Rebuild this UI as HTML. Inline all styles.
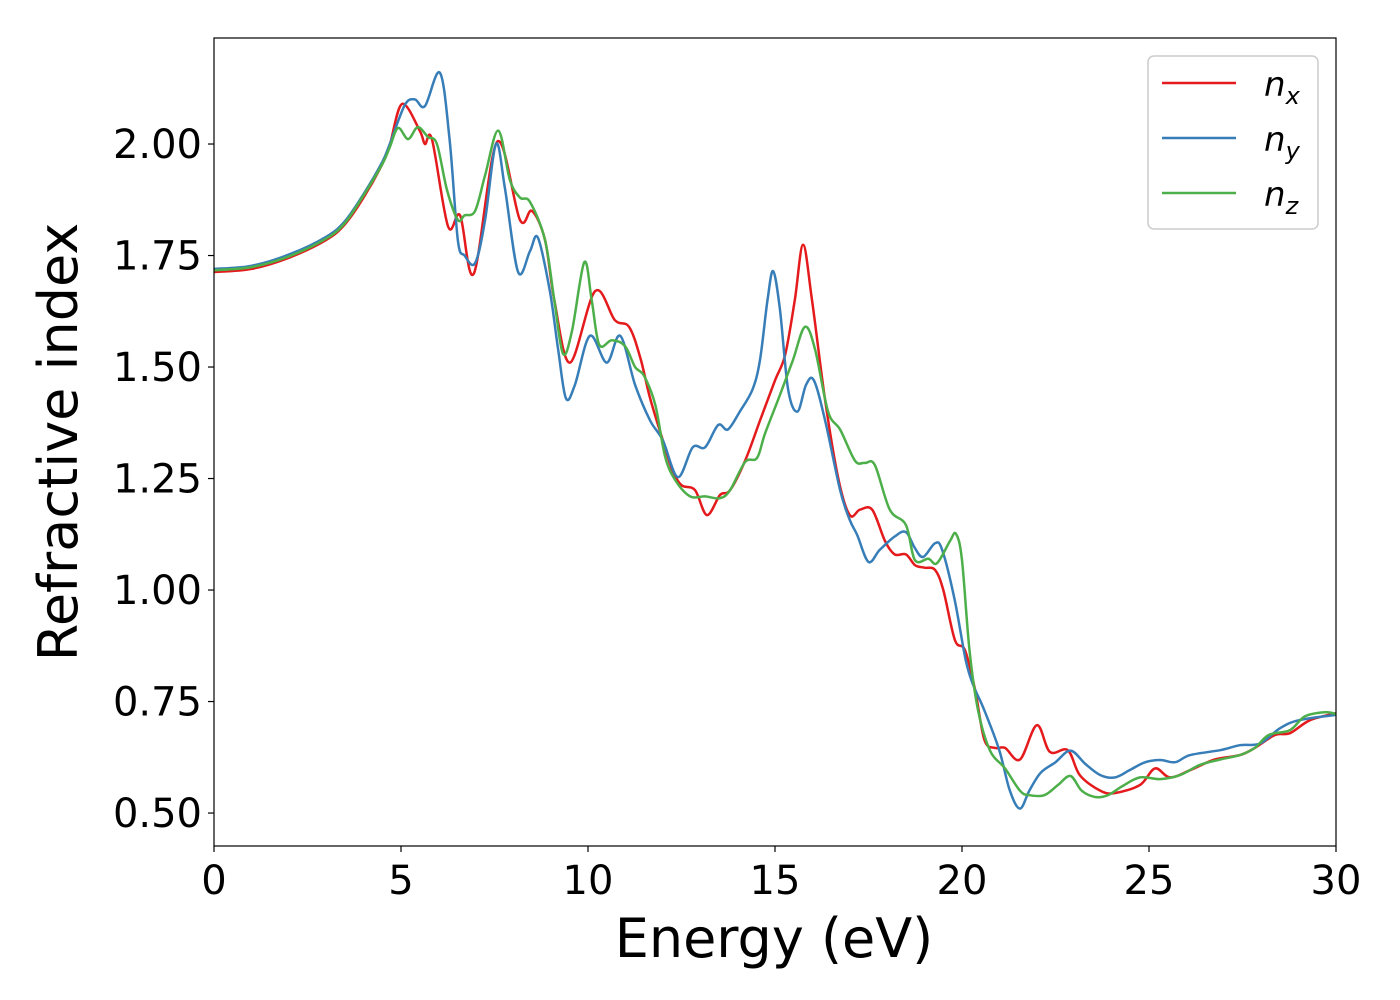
<!DOCTYPE html>
<html><head><meta charset="utf-8"><style>
html,body{margin:0;padding:0;background:#fff;}
svg{display:block;font-family:"DejaVu Sans","Liberation Sans",sans-serif;}
</style></head><body>
<svg id="chart" width="1400" height="1000">
<rect x="0" y="0" width="1400" height="1000" fill="#fff"/>
<g id="plot"></g>
<g id="axes"></g>
<text x="774" y="957" font-size="54" text-anchor="middle" fill="#000">Energy (eV)</text>
<text transform="translate(77,442) rotate(-90)" font-size="54" text-anchor="middle" fill="#000">Refractive index</text>
<g>
<rect x="1148" y="56" width="170" height="173" rx="6" fill="#fff" stroke="#ccc" stroke-width="1.5"/>
<g><line x1="1162" y1="83" x2="1236" y2="83" stroke="#e41a1c" stroke-width="2.5"/><text x="1264" y="96" font-size="34" font-style="italic">n<tspan font-size="24" dy="8">x</tspan></text></g>
<g><line x1="1162" y1="138" x2="1236" y2="138" stroke="#377eb8" stroke-width="2.5"/><text x="1264" y="151" font-size="34" font-style="italic">n<tspan font-size="24" dy="8">y</tspan></text></g>
<g><line x1="1162" y1="193" x2="1236" y2="193" stroke="#4daf4a" stroke-width="2.5"/><text x="1264" y="206" font-size="34" font-style="italic">n<tspan font-size="24" dy="8">z</tspan></text></g>
</g>
</svg>
<script>
const xTicks = [0,5,10,15,20,25,30];
const yTicks = [0.50,0.75,1.00,1.25,1.50,1.75,2.00];
const nxE = [0,1,2,3,3.5,4,4.5,4.7,5.03,5.5,5.64,5.83,6.26,6.58,6.95,7.57,8.18,8.5,8.85,9.1,9.52,10.19,10.72,11.1,11.4,11.66,12.0,12.25,12.5,12.86,13.18,13.53,13.8,14.2,14.6,15.0,15.27,15.53,15.75,15.99,16.34,16.7,17.0,17.27,17.6,17.94,18.2,18.5,18.74,19.0,19.28,19.5,19.81,20.08,20.35,20.6,20.88,21.15,21.55,22.0,22.35,22.83,23.15,23.7,24.1,24.76,25.16,25.56,26.1,26.76,27.43,27.83,28.37,28.77,29.3,30];
const nxV = [1.713,1.72,1.745,1.785,1.82,1.88,1.955,1.998,2.09,2.03,2.0,2.01,1.815,1.84,1.71,2.005,1.83,1.85,1.785,1.65,1.51,1.67,1.605,1.59,1.52,1.43,1.336,1.27,1.235,1.224,1.168,1.213,1.224,1.29,1.38,1.47,1.527,1.65,1.774,1.65,1.426,1.247,1.168,1.18,1.18,1.11,1.08,1.08,1.056,1.05,1.045,1.0,0.888,0.865,0.776,0.664,0.646,0.646,0.62,0.697,0.637,0.641,0.585,0.55,0.545,0.563,0.6,0.58,0.596,0.62,0.63,0.646,0.675,0.679,0.708,0.724];
const nyE = [0,1,2,3,3.5,4,4.5,4.7,5.1,5.37,5.64,6.04,6.3,6.52,6.7,6.98,7.25,7.54,7.78,8.13,8.45,8.66,8.98,9.2,9.41,9.65,10.05,10.5,10.86,11.26,11.66,12.0,12.4,12.8,13.13,13.48,13.74,14.06,14.4,14.6,14.8,14.95,15.13,15.35,15.6,15.83,16.04,16.34,16.74,17.0,17.2,17.5,17.8,18.2,18.5,18.74,18.96,19.28,19.47,19.8,20.1,20.3,20.6,21.0,21.28,21.55,21.8,22.1,22.5,22.9,23.3,23.7,24.1,24.5,24.9,25.3,25.7,26.1,26.9,27.43,27.97,28.5,29.0,30];
const nyV = [1.72,1.727,1.752,1.792,1.827,1.888,1.96,2.0,2.087,2.1,2.085,2.16,2.01,1.785,1.75,1.733,1.83,2.0,1.9,1.713,1.76,1.79,1.67,1.54,1.43,1.46,1.57,1.51,1.57,1.46,1.38,1.336,1.253,1.32,1.32,1.37,1.36,1.40,1.45,1.516,1.65,1.715,1.63,1.45,1.40,1.46,1.47,1.38,1.224,1.157,1.123,1.063,1.09,1.12,1.13,1.094,1.074,1.105,1.09,0.98,0.843,0.787,0.73,0.64,0.55,0.51,0.55,0.59,0.614,0.64,0.61,0.585,0.58,0.597,0.614,0.619,0.614,0.63,0.641,0.652,0.656,0.69,0.708,0.72];
const nzE = [0,1,2,3,3.5,4,4.5,4.7,4.92,5.19,5.45,5.72,5.96,6.23,6.52,6.7,6.98,7.25,7.6,7.91,8.18,8.45,8.85,9.1,9.33,9.57,9.9,10.1,10.3,10.64,10.99,11.26,11.5,11.8,12.06,12.33,12.73,13.13,13.53,13.8,14.2,14.52,14.73,15.13,15.48,15.8,16.07,16.42,16.74,17.14,17.4,17.67,18.07,18.5,18.74,19.1,19.33,19.68,19.84,20.0,20.2,20.43,20.75,21.15,21.55,21.8,22.2,22.57,22.9,23.2,23.56,23.9,24.28,24.76,25.3,25.83,26.36,26.9,27.43,27.83,28.2,28.77,29.17,29.7,30];
const nzV = [1.717,1.724,1.748,1.788,1.823,1.885,1.955,1.993,2.036,2.011,2.038,2.016,2.0,1.897,1.83,1.84,1.85,1.93,2.03,1.92,1.88,1.87,1.785,1.65,1.53,1.58,1.735,1.65,1.55,1.56,1.547,1.50,1.48,1.415,1.30,1.247,1.21,1.21,1.206,1.224,1.287,1.296,1.35,1.437,1.516,1.59,1.54,1.40,1.36,1.29,1.285,1.28,1.18,1.146,1.067,1.07,1.06,1.11,1.126,1.067,0.865,0.73,0.64,0.6,0.55,0.54,0.54,0.563,0.583,0.55,0.536,0.54,0.56,0.58,0.576,0.585,0.608,0.62,0.63,0.646,0.675,0.686,0.717,0.726,0.722];

const X0=214, X1=1336, Y0=38, Y1=846;
const xMin=0, xMax=30, yMin=0.4261, yMax=2.2377;
function xs(v){return X0+(v-xMin)/(xMax-xMin)*(X1-X0);}
function ys(v){return Y1-(v-yMin)/(yMax-yMin)*(Y1-Y0);}
const NS="http://www.w3.org/2000/svg";
const plot=document.getElementById('plot'), axes=document.getElementById('axes');

function pathFrom(E,V){
  const p=E.map((e,i)=>[xs(e),ys(V[i])]);
  let d="M"+p[0][0].toFixed(1)+","+p[0][1].toFixed(1);
  for(let i=0;i<p.length-1;i++){
    const a=p[Math.max(0,i-1)],b=p[i],c=p[i+1],e=p[Math.min(p.length-1,i+2)];
    const c1=[b[0]+(c[0]-a[0])/6,b[1]+(c[1]-a[1])/6];
    const c2=[c[0]-(e[0]-b[0])/6,c[1]-(e[1]-b[1])/6];
    d+=" C"+c1[0].toFixed(1)+","+c1[1].toFixed(1)+" "+c2[0].toFixed(1)+","+c2[1].toFixed(1)+" "+c[0].toFixed(1)+","+c[1].toFixed(1);
  }
  return d;
}
function addSeries(E,V,color,name){
  const el=document.createElementNS(NS,'path');
  el.setAttribute('d',pathFrom(E,V));
  el.setAttribute('fill','none');
  el.setAttribute('stroke',color);
  el.setAttribute('stroke-width','2.5');
  el.setAttribute('stroke-linejoin','round');
  
  
  plot.appendChild(el);
}
addSeries(nxE,nxV,'#e41a1c','series-nx');
addSeries(nyE,nyV,'#377eb8','series-ny');
addSeries(nzE,nzV,'#4daf4a','series-nz');

const frame=document.createElementNS(NS,'rect');
frame.setAttribute('x',X0);frame.setAttribute('y',Y0);
frame.setAttribute('width',X1-X0);frame.setAttribute('height',Y1-Y0);
frame.setAttribute('fill','none');frame.setAttribute('stroke','#000');frame.setAttribute('stroke-width','1.2');


axes.appendChild(frame);

xTicks.forEach(t=>{
  const x=xs(t);
  const l=document.createElementNS(NS,'line');
  l.setAttribute('x1',x);l.setAttribute('x2',x);l.setAttribute('y1',Y1);l.setAttribute('y2',Y1+6);
  l.setAttribute('stroke','#000');l.setAttribute('stroke-width','1.2');
  
  
  axes.appendChild(l);
  const tx=document.createElementNS(NS,'text');
  tx.setAttribute('x',x);tx.setAttribute('y',Y1+48);
  tx.setAttribute('font-size','40');tx.setAttribute('text-anchor','middle');
  tx.textContent=String(t);
  
  
  axes.appendChild(tx);
});
yTicks.forEach(t=>{
  const y=ys(t);
  const l=document.createElementNS(NS,'line');
  l.setAttribute('x1',X0-6);l.setAttribute('x2',X0);l.setAttribute('y1',y);l.setAttribute('y2',y);
  l.setAttribute('stroke','#000');l.setAttribute('stroke-width','1.2');
  
  
  axes.appendChild(l);
  const tx=document.createElementNS(NS,'text');
  tx.setAttribute('x',X0-12);tx.setAttribute('y',y+14);
  tx.setAttribute('font-size','40');tx.setAttribute('text-anchor','end');
  tx.textContent=t.toFixed(2);
  
  
  axes.appendChild(tx);
});
</script>
</body></html>
